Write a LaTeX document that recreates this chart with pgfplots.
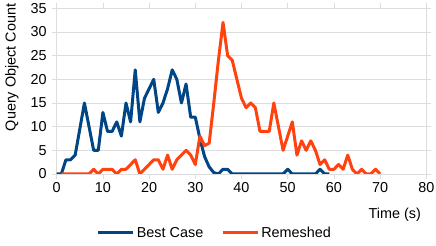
\documentclass[border=0pt]{standalone}
\usepackage{pgfplots}
\pgfplotsset{compat=1.18}
\usepackage{fontspec}
\setmainfont{Liberation Sans}
\definecolor{bestc}{HTML}{004586}
\definecolor{remc}{HTML}{FF420E}
\definecolor{gridc}{HTML}{DDDDDD}
\begin{document}
\begin{tikzpicture}
\path[use as bounding box] (0,0) rectangle (436bp,246bp);
\begin{axis}[
  at={(56.7bp,72bp)}, anchor=south west,
  scale only axis, width=369.6bp, height=165.7bp,
  xmin=0, xmax=80, ymin=0, ymax=35,
  xtick={0,10,...,80}, ytick={0,5,...,35},
  tick align=outside, major tick length=5bp,
  tick style={color=gridc, line width=0.8bp},
  axis line style={gridc, line width=0.8bp},
  ymajorgrids, grid style={gridc, line width=0.8bp},
  font=\fontsize{14.4bp}{16bp}\selectfont,
  /pgf/number format/assume math mode=true,
  ticklabel style={font=\fontsize{14.4bp}{16bp}\selectfont},
  yticklabel style={xshift=-1.5bp},
  ylabel={Query Object Count},
  ylabel style={at={(axis description cs:-0.121,0.643)}, anchor=center},
  xlabel={Time (s)},
  xlabel style={at={(axis description cs:0.995,-0.247)}, anchor=east},
  legend style={at={(0.428,-0.356)}, anchor=center, draw=none, fill=none,
    legend columns=2, font=\fontsize{14.4bp}{16bp}\selectfont,
    /tikz/every even column/.append style={column sep=16bp}},
  legend image code/.code={\draw[#1, line width=3bp] (0bp,0bp) -- (35bp,0bp);},
]
\addplot[bestc, line width=3bp, line join=round, no markers] coordinates {
(0,0)(1,0)(2,3)(3,3)(4,4)(5,9.5)(6,15)(7,10)(8,5)(9,5)(10,13)(11,9)(12,9)(13,11)(14,8)
(15,15)(16,11)(17,22)(18,11)(19,16)(20,18)(21,20)(22,13)(23,15)(24,18)(25,22)(26,20)
(27,15)(28,19)(29,12)(30,12)(31,7.5)(32,3.7)(33,1.5)(34,0.3)(35,0)(36,1)(37,1)(38,0)
(39,0)(40,0)(41,0)(42,0)(43,0)(44,0)(45,0)(46,0)(47,0)(48,0)(49,0)(50,1)(51,0)(52,0)
(53,0)(54,0)(55,0)(56,0)(57,1)(58,0)(59,0)};
\addlegendentry{Best Case}
\addplot[remc, line width=3bp, line join=round, no markers] coordinates {
(1,0)(2,0)(3,0)(4,0)(5,0)(6,0)(7,0)(8,1)(9,0)(10,1)(11,1)(12,1)(13,0)(14,1)(15,1)
(16,2)(17,3)(18,0)(19,1)(20,2)(21,3)(22,3)(23,1)(24,4)(25,1)(26,3)(27,4)(28,5)(29,4)
(30,2)(31,8)(32,6)(33,6.5)(34,15)(35,24)(36,32)(37,25)(38,24)(39,20)(40,16)(41,14)
(42,15)(43,14)(44,9)(45,9)(46,9)(47,15)(48,10)(49,5)(50,8)(51,11)(52,4)(53,7)(54,5)
(55,7)(56,5)(57,2)(58,3)(59,1)(60,1)(61,2)(62,1)(63,4)(64,1)(65,0)(66,1)(67,0)(68,0)
(69,1)(70,0)};
\addlegendentry{Remeshed}
\end{axis}
\end{tikzpicture}
\end{document}
